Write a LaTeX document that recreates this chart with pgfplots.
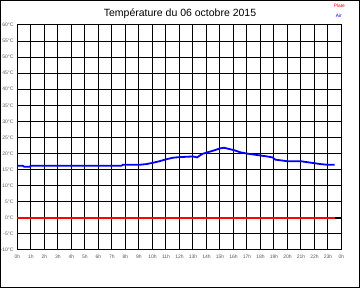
\documentclass[border=0pt]{standalone}
\usepackage{pgfplots}
\pgfplotsset{compat=1.18}
\usepackage{fontspec}
\setmainfont{Liberation Sans}
\begin{document}
\begin{tikzpicture}[x=1pt,y=1pt]
\path[use as bounding box] (0,0) rectangle (360,288);
\draw[line width=1.2pt] (0.6,0.6) rectangle (359.4,287.4);
\node[font=\fontsize{10.5}{12}\selectfont] at (180,274) {Température du 06 octobre 2015};
\node[font=\fontsize{4.8}{5}\selectfont, text=red, anchor=east, inner sep=0] at (345,282) {Plate};
\node[font=\fontsize{4.8}{5}\selectfont, text=blue, anchor=east, inner sep=0] at (342,272) {Air};
\begin{axis}[
  at={(17.5pt,38pt)}, anchor=south west,
  scale only axis, width=324pt, height=225pt,
  xmin=0, xmax=24, ymin=-10, ymax=60,
  xtick={0,...,24},
  xticklabels={0h,1h,2h,3h,4h,5h,6h,7h,8h,9h,10h,11h,12h,13h,14h,15h,16h,17h,18h,19h,20h,21h,22h,23h,0h},
  ytick={-10,-5,...,60},
  yticklabel={\pgfmathprintnumber{\tick}°C},
  /pgf/number format/assume math mode=true,
  tick label style={font=\fontsize{5}{5}\selectfont, text=gray!70!black},
  major tick length=0pt,
  xticklabel style={yshift=-1pt},
  yticklabel style={xshift=-0.5pt},
  grid=major,
  major grid style={black, line width=1pt},
  axis line style={black, line width=1pt},
  clip=false,
]
\addplot[black, line width=2pt] coordinates {(0,0) (24,0)};
\addplot[red, line width=2pt] coordinates {(0,0) (23.5,0)};
\addplot[blue, line width=1.8pt] coordinates {
(0,16.2) (0.4,16.2) (0.5,15.9) (0.9,15.9) (1,16.2) (2,16.2) (3,16.2) (4,16.2) (5,16.2) (6,16.2) (7,16.2) (7.7,16.2) (7.8,16.5)
(8,16.5) (9,16.5) (9.5,16.7) (10,17.1) (10.5,17.6) (11,18.2) (11.5,18.7) (12,18.9) (13,19.1) (13.3,18.8)
(13.7,19.9) (14,20.3) (14.5,20.9) (15,21.6) (15.3,21.8) (15.7,21.4) (16,21.1) (16.5,20.4) (17,20.0)
(17.5,19.7) (18,19.4) (18.5,19.1) (18.9,18.8) (19.1,18.1) (19.5,17.9) (20,17.6) (21,17.6) (21.5,17.3)
(22,17.0) (22.5,16.7) (23,16.5) (23.5,16.5)
};
\end{axis}
\end{tikzpicture}
\end{document}
